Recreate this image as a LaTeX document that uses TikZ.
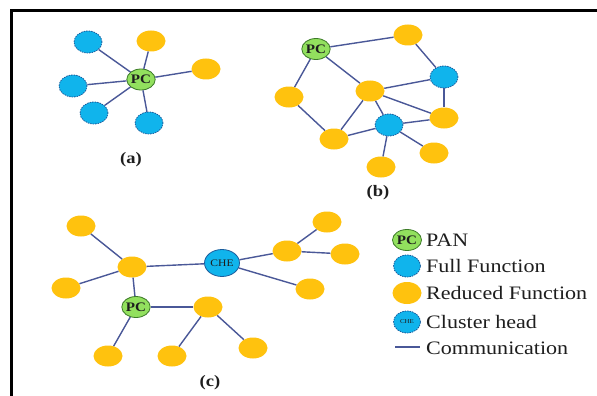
\documentclass[tikz,border=0pt]{standalone}
\usepackage{fontspec}
\setmainfont{Liberation Serif}
\usepackage{graphicx}
\usetikzlibrary{shapes.geometric}
\definecolor{fgreen}{HTML}{92E05E}
\definecolor{fgreenb}{HTML}{3C7A28}
\definecolor{fblue}{HTML}{10B4EC}
\definecolor{fblueb}{HTML}{1C5C9C}
\definecolor{fyel}{HTML}{FFC20E}
\definecolor{fedge}{HTML}{4A5898}
\definecolor{ftext}{HTML}{1E1E1E}
\newcommand{\wtx}[1]{\scalebox{1.16}[1]{#1}}
\tikzset{
  pcnode/.style={ellipse, draw=fgreenb, line width=0.8pt, fill=fgreen, minimum width=28pt, minimum height=21pt, inner sep=0pt, font=\fontsize{13}{13}\selectfont\bfseries, text=ftext},
  fullnode/.style={ellipse, draw=fblueb, dash pattern=on 1.5pt off 1pt, line width=0.8pt, fill=fblue, minimum width=28pt, minimum height=22pt, inner sep=0pt},
  rednode/.style={ellipse, fill=fyel, minimum width=29pt, minimum height=21pt, inner sep=0pt},
  chnode/.style={ellipse, draw=fblueb, line width=0.8pt, fill=fblue, minimum width=35pt, minimum height=27pt, inner sep=0pt, font=\fontsize{10}{10}\selectfont, text=ftext},
  link/.style={draw=fedge, line width=1.4pt},
  caption/.style={font=\fontsize{16}{16}\selectfont\bfseries, text=ftext},
  legtext/.style={anchor=west, font=\fontsize{19}{19}\selectfont, text=ftext, inner sep=0pt}
}
\begin{document}
\begin{tikzpicture}[x=1pt, y=-1pt]
\useasboundingbox (0,0) rectangle (597,396);
\fill[white] (0,0) rectangle (597,396);
\draw[line width=3pt, line cap=rect] (11.5,396) -- (11.5,11) -- (597,11);

% ---------- (a) ----------
\node[pcnode] (apc) at (141,79.5) {\wtx{PC}};
\node[fullnode] (af1) at (88,42) {};
\node[fullnode] (af2) at (73,86) {};
\node[fullnode] (af3) at (94,113) {};
\node[fullnode] (af4) at (149,123) {};
\node[rednode] (ar1) at (151,41) {};
\node[rednode] (ar2) at (206,69) {};
\foreach \n in {af1,af2,af3,af4,ar1,ar2} \draw[link] (apc) -- (\n);
\node[caption] (capa) at (131,160) {\wtx{(a)}};

% ---------- (b) ----------
\node[pcnode] (bpc) at (316,49) {\wtx{PC}};
\node[rednode] (btop) at (408,35) {};
\node[fullnode] (bfr) at (444,77) {};
\node[rednode] (bcen) at (370,91) {};
\node[rednode] (bleft) at (289,97) {};
\node[fullnode] (bfc) at (389,125) {};
\node[rednode] (bright) at (444,118) {};
\node[rednode] (bbl) at (334,139) {};
\node[rednode] (bbot) at (381,167) {};
\node[rednode] (bbr) at (434,153) {};
\draw[link] (bpc) -- (btop);
\draw[link] (btop) -- (bfr);
\draw[link] (bpc) -- (bcen);
\draw[link] (bpc) -- (bleft);
\draw[link] (bleft) -- (bbl);
\draw[link] (bcen) -- (bfr);
\draw[link] (bcen) -- (bbl);
\draw[link] (bcen) -- (bfc);
\draw[link] (bcen) -- (bright);
\draw[link] (bfr) -- (bright);
\draw[link] (bfc) -- (bbl);
\draw[link] (bfc) -- (bright);
\draw[link] (bfc) -- (bbot);
\draw[link] (bfc) -- (bbr);
\node[caption] (capb) at (378,193) {\wtx{(b)}};

% ---------- (c) ----------
\node[rednode] (ctl) at (81,226) {};
\node[rednode] (ch1) at (132,267) {};
\node[rednode] (cl) at (66,288) {};
\node[pcnode] (cpc) at (136,307) {\wtx{PC}};
\node[chnode] (cche) at (222,263) {\wtx{CHE}};
\node[rednode] (ch2) at (287,251) {};
\node[rednode] (ctr) at (327,222) {};
\node[rednode] (cr) at (345,254) {};
\node[rednode] (clr) at (310,289) {};
\node[rednode] (ch3) at (208,307) {};
\node[rednode] (cbl) at (108,356) {};
\node[rednode] (cbm) at (172,356) {};
\node[rednode] (cbr) at (253,348) {};
\draw[link] (ctl) -- (ch1);
\draw[link] (cl) -- (ch1);
\draw[link] (ch1) -- (cpc);
\draw[link] (ch1) -- (cche);
\draw[link] (cche) -- (ch2);
\draw[link] (ch2) -- (ctr);
\draw[link] (ch2) -- (cr);
\draw[link] (cche) -- (clr);
\draw[link] (cpc) -- (ch3);
\draw[link] (cpc) -- (cbl);
\draw[link] (ch3) -- (cbm);
\draw[link] (ch3) -- (cbr);
\node[caption] (capc) at (210,383) {\wtx{(c)}};

% ---------- legend ----------
\node[pcnode, minimum width=29pt, minimum height=21pt] (lpc) at (407,240) {\wtx{PC}};
\node[legtext] (tpc) at (426,240) {\wtx{PAN}};
\node[fullnode, minimum width=27pt, minimum height=22pt] (lfull) at (407,266) {};
\node[legtext] (tfull) at (426,266) {\wtx{Full Function}};
\node[rednode, minimum width=29pt, minimum height=22pt] (lred) at (407,293) {};
\node[legtext] (tred) at (426,293) {\wtx{Reduced Function}};
\node[chnode, dash pattern=on 1.5pt off 1pt, minimum width=27pt, minimum height=22pt, font=\fontsize{6}{6}\selectfont] (lch) at (407,322) {\wtx{CHE}};
\node[legtext] (tch) at (426,322) {\wtx{Cluster head}};
\coordinate (lla) at (395,347);
\coordinate (llb) at (420,347);
\draw[link] (lla) -- (llb);
\node[legtext] (tcom) at (426,348) {\wtx{Communication}};
\end{tikzpicture}
\end{document}
